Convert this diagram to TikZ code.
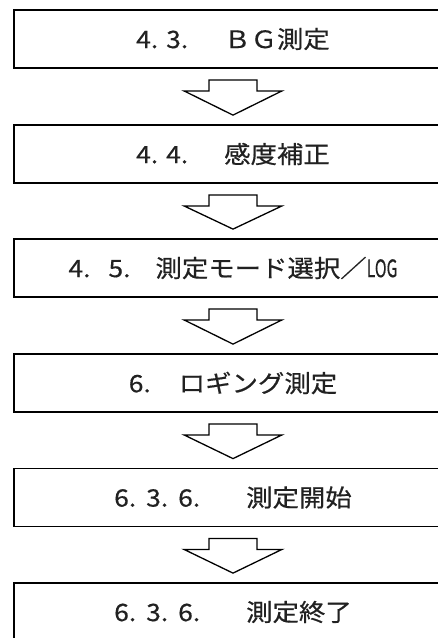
\documentclass[tikz,border=0pt]{standalone}
\usepackage{fontspec}
\usepackage{graphicx}
\newfontfamily\jpfont[FakeStretch=1.1,FakeBold=0.5]{Noto Sans CJK JP}
\usetikzlibrary{calc}
\definecolor{StepClr}{rgb}{0.13,0.13,0.13}

\tikzset{
  stepbox/.style={draw=black, line width=1.8pt, rectangle, minimum width=438pt,
    minimum height=58pt, inner sep=0pt, text=StepClr,
    font=\jpfont\fontsize{24}{28}\selectfont},
  flowarrow/.style={draw=black, line width=1.3pt, line join=miter, fill=white}
}
% section number, one fixed cell per level
\newcommand{\Sec}[2][30pt]{\makebox[#1][l]{#2.}}
% block arrow from the bottom of one box to the top of the next
\newcommand{\FlowArrow}[2]{%
  \draw[flowarrow] ($(#1.south)+(-24pt,-11pt)$) -- ++(48pt,0) -- ++(0,-11pt)
    -- ++(25pt,0) -- ($(#2.north)+(0,9pt)$) -- ($(#1.south)+(-49pt,-22pt)$)
    -- ++(25pt,0) -- cycle;}

\begin{document}
\begin{tikzpicture}[x=1pt,y=1pt]
\useasboundingbox (0,0) rectangle (438,-638);
\clip (0,0) rectangle (438,-638);

\node[stepbox] (bg)    at (233,-39)    {\Sec{4}\Sec{3}\hspace{28pt}ＢＧ測定};
\node[stepbox] (sens)  at (233,-154)   {\Sec{4}\Sec{4}\hspace{28pt}感度補正};
\node[stepbox] (mode)  at (233,-268)   {\Sec[40pt]{4}\Sec[40pt]{5}\hspace{7pt}測定モード選択／\scalebox{0.6}[1]{LOG}};
\node[stepbox] (log)   at (233,-383)   {\Sec{6}\hspace{20pt}ロギング測定};
\node[stepbox] (start) at (233,-497.5) {\Sec[32pt]{6}\Sec[32pt]{3}\Sec[32pt]{6}\hspace{36pt}測定開始};
\node[stepbox] (stop)  at (233,-612)   {\Sec[32pt]{6}\Sec[32pt]{3}\Sec[32pt]{6}\hspace{36pt}測定終了};

\FlowArrow{bg}{sens}
\FlowArrow{sens}{mode}
\FlowArrow{mode}{log}
\FlowArrow{log}{start}
\FlowArrow{start}{stop}

\end{tikzpicture}
\end{document}
